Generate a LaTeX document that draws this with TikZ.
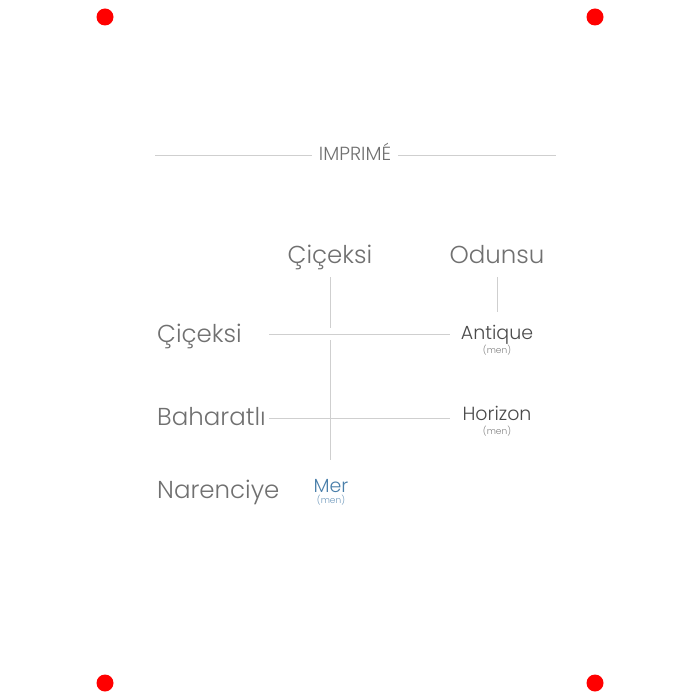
\documentclass[tikz,border=0pt]{standalone}
\usepackage{fontspec}
\setmainfont{Poppins}
\newfontfamily\lightfont{Poppins Light}
\usepackage{xcolor}
\usetikzlibrary{positioning}

\definecolor{labelgray}{HTML}{707070}
\definecolor{namegray}{HTML}{4A4A4A}
\definecolor{rulegray}{HTML}{CFCFCF}
\definecolor{merblue}{HTML}{4A7FAA}

\begin{document}
\begin{tikzpicture}[x=1pt, y=-1pt,
    head/.style={text=labelgray, anchor=base, inner sep=0pt, font=\lightfont\fontsize{24.5}{28}\selectfont},
    perfume/.style={text=namegray, anchor=base, inner sep=0pt, font=\lightfont\fontsize{19}{22}\selectfont},
    tag/.style={text=gray, anchor=base, inner sep=0pt, font=\lightfont\fontsize{9}{10}\selectfont},
    rule/.style={rulegray, line width=0.9pt},
    reddot/.style={circle, fill=red, draw=none, inner sep=0pt, minimum size=17pt}]
    \useasboundingbox (0,0) rectangle (700,700);

    % corner marks
    \node[reddot] (tl) at (105,17) {};
    \node[reddot] (tr) at (595,17) {};
    \node[reddot] (bl) at (105,683) {};
    \node[reddot] (br) at (595,683) {};

    % title
    \node[text=labelgray, anchor=base, inner sep=0pt, font=\lightfont\fontsize{19}{21}\selectfont] (title) at (355,161) {IMPRIMÉ};
    \coordinate (tlstart) at (155,155);
    \coordinate (trend) at (556,155);
    \draw[rule] (tlstart) -- ([xshift=-7pt]title.west |- tlstart);
    \draw[rule] ([xshift=7pt]title.east |- trend) -- (trend);

    % column and row heads
    \node[head] (colflo) at (330,263) {Çiçeksi};
    \node[head] (colwood) at (497,263) {Odunsu};
    \node[head, anchor=base west] (rowflo) at (157,342) {Çiçeksi};
    \node[head, anchor=base west] (rowspice) at (157,425) {Baharatlı};
    \node[head, anchor=base west] (rowcitrus) at (157,498) {Narenciye};

    % perfumes
    \node[perfume] (antique) at (497,339) {Antique};
    \node[tag] (antiquemen) at (497,353) {(men)};
    \node[perfume] (horizon) at (497,420) {Horizon};
    \node[tag] (horizonmen) at (497,434) {(men)};
    \node[perfume, text=merblue] (mer) at (331,492) {Mer};
    \node[tag, text=merblue!80] (mermen) at (331,503) {(men)};

    % grid
    \coordinate (hitA) at (330,334);
    \coordinate (hitB) at (330,418);
    \coordinate (floL) at (269,334);
    \coordinate (floR) at (450,334);
    \coordinate (spiL) at (269,418);
    \coordinate (spiR) at (450,418);
    \draw[rule] (colflo.base |- 0,277) -- ([yshift=6pt]hitA);
    \draw[rule] ([yshift=-6pt]hitA) -- ([yshift=-42pt]hitB);
    \draw[rule] (colwood.base |- 0,277) -- (colwood.base |- 0,312);
    \draw[rule] (floL) -- (floR);
    \draw[rule] (spiL) -- (spiR);
\end{tikzpicture}
\end{document}
